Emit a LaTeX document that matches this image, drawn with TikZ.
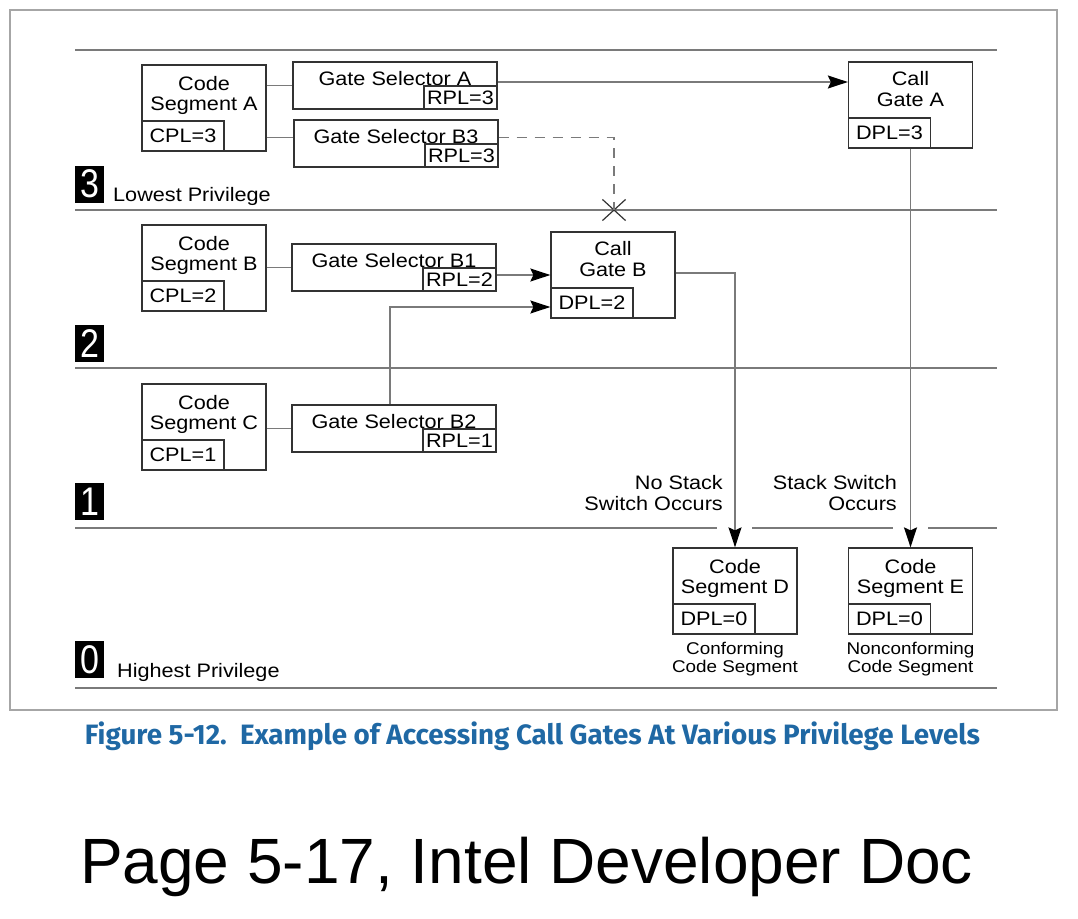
\documentclass[tikz,border=0pt]{standalone}
\usepackage{fontspec}
\setmainfont{Liberation Sans}
\newfontfamily\diafont[FakeStretch=1.11]{Liberation Sans}
\newfontfamily\digfont[FakeStretch=0.85]{Liberation Sans}
\newfontfamily\capfont{Fira Sans}
\usetikzlibrary{arrows.meta,positioning,shapes.misc}
\definecolor{boxc}{HTML}{333333}
\definecolor{linec}{HTML}{7A7A7A}
\definecolor{capblue}{HTML}{1F68A4}
\newcommand{\boxfont}{\diafont\fontsize{19.5}{20.5}\selectfont}
\newcommand{\notefont}{\diafont\fontsize{17}{18}\selectfont}

\begin{document}
\begin{tikzpicture}[x=1pt,y=-1pt,
  seg/.style={draw=boxc,line width=1.3pt,minimum width=124pt,minimum height=86pt,inner sep=0pt},
  sel/.style={draw=boxc,line width=1.3pt,minimum width=204pt,minimum height=47pt,inner sep=0pt},
  plbox/.style={draw=boxc,line width=1.3pt,minimum width=82pt,minimum height=30pt,inner sep=0pt,anchor=south west,font=\boxfont},
  rplbox/.style={draw=boxc,line width=1.3pt,minimum width=73pt,minimum height=23pt,inner sep=0pt,anchor=south east,font=\boxfont},
  intext/.style={anchor=north,align=center,inner sep=0pt,font=\boxfont},
  segtext/.style={intext,yshift=-11.5pt},
  gatetext/.style={intext,yshift=-10pt},
  note/.style={align=center,inner sep=0pt,font=\notefont},
  plain/.style={inner sep=0pt,font=\boxfont},
  lvl/.style={fill=black,text=white,minimum width=29pt,minimum height=37pt,inner sep=0pt,font=\digfont\fontsize{40}{40}\selectfont},
  sep/.style={draw=linec,line width=1.2pt},
  conn/.style={draw=linec,line width=1.3pt},
  arr/.style={conn,-{Stealth[length=20pt,width=13pt,inset=3pt,color=black]}}
]
\useasboundingbox (0,0) rectangle (1078,918);
\draw[gray!70,line width=2pt] (10,10) rectangle (1057,710);

% privilege level lines
\draw[sep] (75,50) -- (997,50);
\draw[sep] (75,210) -- (997,210);
\draw[sep] (75,368) -- (997,368);
\draw[sep] (75,528) -- (717,528) (752,528) -- (893,528) (928,528) -- (997,528);
\draw[sep] (75,688) -- (997,688);

\node[lvl] (l3) at (89.5,184) {3};
\node[lvl] (l2) at (89.5,343.5) {2};
\node[lvl] (l1) at (89.5,501.5) {1};
\node[lvl] (l0) at (89.5,659.5) {0};
\node[plain,anchor=base west] (low) at (113,201) {Lowest Privilege};
\node[plain,anchor=base west] (high) at (117,677) {Highest Privilege};

% level 3
\node[seg] (csa) at (204,108) {};
\node[segtext] (csat) at (csa.north) {Code\\Segment A};
\node[plbox] (csap) at (csa.south west) {CPL=3};
\node[sel] (gsa) at (395,85.5) {};
\node[gatetext] (gsat) at (gsa.north) {Gate Selector A};
\node[rplbox] (gsar) at (gsa.south east) {RPL=3};
\node[sel] (gsb3) at (396,143.5) {};
\node[gatetext] (gsb3t) at (gsb3.north) {Gate Selector B3};
\node[rplbox] (gsb3r) at (gsb3.south east) {RPL=3};
\node[seg] (cga) at (910.5,105) {};
\node[gatetext] (cgat) at (cga.north) {Call\\Gate A};
\node[plbox] (cgap) at (cga.south west) {DPL=3};

% level 2
\node[seg] (csb) at (204,268) {};
\node[segtext] (csbt) at (csb.north) {Code\\Segment B};
\node[plbox] (csbp) at (csb.south west) {CPL=2};
\node[sel] (gsb1) at (394,267.5) {};
\node[gatetext] (gsb1t) at (gsb1.north) {Gate Selector B1};
\node[rplbox] (gsb1r) at (gsb1.south east) {RPL=2};
\node[seg] (cgb) at (613,275) {};
\node[gatetext] (cgbt) at (cgb.north) {Call\\Gate B};
\node[plbox] (cgbp) at (cgb.south west) {DPL=2};

% level 1
\node[seg] (csc) at (204,427) {};
\node[segtext] (csct) at (csc.north) {Code\\Segment C};
\node[plbox] (cscp) at (csc.south west) {CPL=1};
\node[sel] (gsb2) at (394,428.5) {};
\node[gatetext] (gsb2t) at (gsb2.north) {Gate Selector B2};
\node[rplbox] (gsb2r) at (gsb2.south east) {RPL=1};

% level 0
\node[seg] (csd) at (735,591) {};
\node[segtext] (csdt) at (csd.north) {Code\\Segment D};
\node[plbox] (csdp) at (csd.south west) {DPL=0};
\node[seg] (cse) at (910.5,591) {};
\node[segtext] (cset) at (cse.north) {Code\\Segment E};
\node[plbox] (csep) at (cse.south west) {DPL=0};
\node[note,below=7pt of csd] (csdn) {Conforming\\Code Segment};
\node[note,below=7pt of cse] (csen) {Nonconforming\\Code Segment};

\node[plain,align=right,anchor=base east] (nss) at (723,510) {No Stack\\Switch Occurs};
\node[plain,align=right,anchor=base east] (ss) at (897,510) {Stack Switch\\Occurs};

% connectors
\node[draw=boxc,cross out,line width=1.2pt,minimum width=22pt,minimum height=20pt,inner sep=0pt] (xm) at (614,210) {};
\coordinate (b3in) at ([yshift=6pt]gsb3.west);
\coordinate (b3out) at ([yshift=6pt]gsb3.east);
\coordinate (aout) at ([yshift=3.5pt]gsa.east);
\coordinate (b2in) at ([yshift=-32pt]cgb.west);
\draw[conn] (gsa.west -| csa.east) -- (gsa.west);
\draw[conn] (b3in -| csa.east) -- (b3in);
\draw[arr] (aout) -- (aout -| cga.west);
\draw[conn,dash pattern=on 10pt off 8pt] (b3out) -| (xm.center);
\draw[conn] (gsb1.west -| csb.east) -- (gsb1.west);
\draw[arr] (cgb.west -| gsb1.east) -- (cgb.west);
\draw[conn] (gsb2.west -| csc.east) -- (gsb2.west);
\draw[arr] ([xshift=-4pt]gsb2.north) |- (b2in);
\draw[arr] ([yshift=2pt]cgb.east) -| (csd.north);
\draw[arr] (cga.south) -- (cse.north);

% captions
\node[text=capblue,anchor=base,inner sep=0pt] (cap) at (532.5,744)
  {\resizebox{895pt}{\height}{\capfont\bfseries\fontsize{28}{28}\selectfont Figure 5-12.\ \ Example of Accessing Call Gates At Various Privilege Levels}};
\node[anchor=base,inner sep=0pt,font=\fontsize{64}{64}\selectfont] (page) at (526.5,883) {Page 5-17, Intel Developer Doc};
\end{tikzpicture}
\end{document}
